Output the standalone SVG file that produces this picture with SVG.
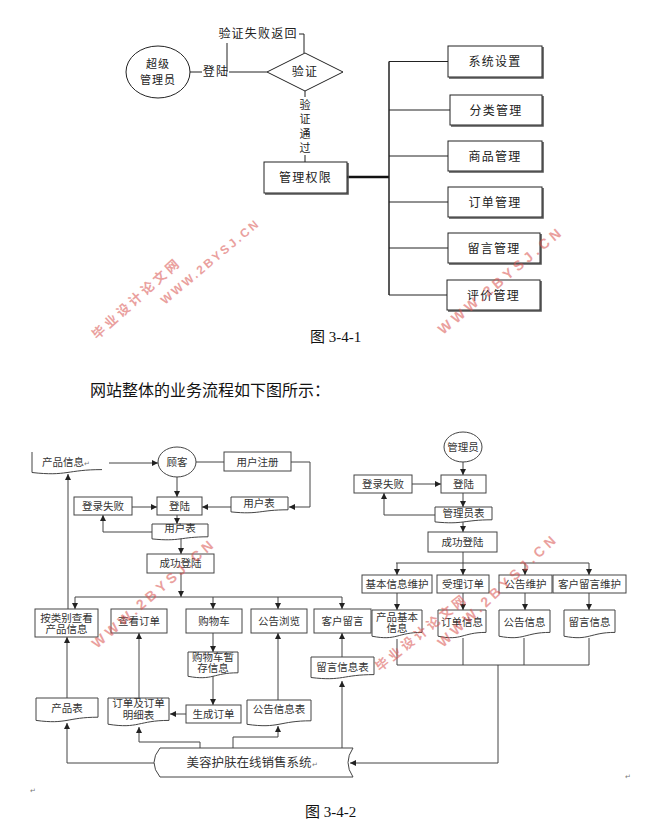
<svg xmlns="http://www.w3.org/2000/svg" width="648" height="835" viewBox="0 0 648 835">
<defs>
<style>
.t{font-family:"Noto Sans CJK SC","Noto Sans",sans-serif;font-size:12px;fill:#222;letter-spacing:1.2px;text-anchor:middle}
.v{font-family:"Noto Sans CJK SC","Noto Sans",sans-serif;font-size:11px;fill:#222;text-anchor:middle}
.s{font-family:"Liberation Serif","Noto Sans CJK SC",serif;font-size:10.5px;fill:#333;text-anchor:middle}
.ln{fill:none;stroke:#222;stroke-width:1}
.l2{fill:none;stroke:#444;stroke-width:1}
.bx{fill:#fff;stroke:#222;stroke-width:1}
.b2{fill:#fff;stroke:#444;stroke-width:1}
.sh{fill:none;stroke:#555;stroke-width:1.6}
.wm{font-family:"Liberation Sans","Noto Sans CJK SC",sans-serif;font-weight:bold;fill:#d9534f;opacity:0.55}
.cap{font-family:"Liberation Serif","Noto Sans CJK SC",serif;font-size:15px;fill:#111}
</style>
<marker id="ar" markerWidth="6" markerHeight="6" refX="6" refY="3" orient="auto" markerUnits="userSpaceOnUse">
<path d="M0,0 L6,3 L0,6 z" fill="#222"/>
</marker>
</defs>
<rect width="648" height="835" fill="#fff"/>

<!-- ===== Figure 3-4-1 ===== -->
<g id="connectors-top">
<line class="ln" x1="190" y1="72" x2="202" y2="72"/>
<line class="ln" x1="229" y1="72" x2="267" y2="72"/>
<polyline class="ln" points="227,43 227,72"/>
<polyline class="ln" points="299,34 304,34 304,53"/>
<line class="ln" x1="305" y1="91" x2="305" y2="97"/>
<line class="ln" x1="305" y1="155" x2="305" y2="162"/>
<line x1="347" y1="177" x2="389" y2="177" stroke="#111" stroke-width="2.5"/>
<line x1="389" y1="61.5" x2="389" y2="295" stroke="#222" stroke-width="1.5"/>
<line class="ln" x1="389" y1="61.5" x2="448" y2="61.5"/>
<line class="ln" x1="389" y1="110" x2="450" y2="110"/>
<line class="ln" x1="389" y1="156" x2="448" y2="156"/>
<line class="ln" x1="389" y1="202" x2="448" y2="202"/>
<line class="ln" x1="389" y1="248" x2="448" y2="248"/>
<line class="ln" x1="389" y1="295" x2="447" y2="295"/>
<text class="t" x="216" y="76">登陆</text>
<text class="t" x="258" y="38">验证失败返回</text>
<text class="v" x="305" y="108.5">验</text>
<text class="v" x="305" y="123">证</text>
<text class="v" x="305" y="137.5">通</text>
<text class="v" x="305" y="152">过</text>
</g>
<g id="n-superadmin">
<ellipse class="bx" cx="158" cy="72" rx="32" ry="26"/>
<text class="v" x="158" y="67.5" style="letter-spacing:1px">超级</text>
<text class="v" x="158" y="84" style="letter-spacing:1px">管理员</text>
</g>
<g id="n-verify">
<polygon class="bx" points="267,72 305,53 343,72 305,91"/>
<text class="t" x="305" y="76">验证</text>
</g>
<g id="n-perm">
<polyline class="sh" points="265,194 348,194 348,163"/>
<rect class="bx" x="264" y="162" width="83" height="31"/>
<text class="t" x="305.5" y="182">管理权限</text>
</g>
<g id="n-sys">
<polyline class="sh" points="449,78 543,78 543,47"/>
<rect class="bx" x="448" y="46" width="94" height="31"/>
<text class="t" x="495" y="66">系统设置</text>
</g>
<g id="n-cat">
<polyline class="sh" points="451,126 543,126 543,96"/>
<rect class="bx" x="450" y="95" width="92" height="30"/>
<text class="t" x="496" y="114.5">分类管理</text>
</g>
<g id="n-goods">
<polyline class="sh" points="449,172 543,172 543,142"/>
<rect class="bx" x="448" y="141" width="94" height="30"/>
<text class="t" x="495" y="160.5">商品管理</text>
</g>
<g id="n-order">
<polyline class="sh" points="449,218 543,218 543,188"/>
<rect class="bx" x="448" y="187" width="94" height="30"/>
<text class="t" x="495" y="206.5">订单管理</text>
</g>
<g id="n-msg">
<polyline class="sh" points="449,264 541,264 541,234"/>
<rect class="bx" x="448" y="233" width="92" height="30"/>
<text class="t" x="494" y="252.5">留言管理</text>
</g>
<g id="n-review">
<polyline class="sh" points="448,311 541,311 541,281"/>
<rect class="bx" x="447" y="280" width="93" height="30"/>
<text class="t" x="493.5" y="299.5">评价管理</text>
</g>

<text class="cap" x="310" y="342">图 3-4-1</text>
<text x="90" y="396" style="font-family:'Noto Sans CJK SC',sans-serif;font-size:16px;fill:#111">网站整体的业务流程如下图所示：</text>

<!-- ===== Figure 3-4-2 ===== -->
<g id="connectors-bottom">
<line class="l2" x1="109" y1="463" x2="158" y2="463" marker-end="url(#ar)"/>
<line class="l2" x1="196" y1="462" x2="224" y2="462"/>
<polyline class="l2" points="291,462 310,462 310,507 289,507" marker-end="url(#ar)"/>
<line class="l2" x1="231" y1="507" x2="202" y2="507" marker-end="url(#ar)"/>
<line class="l2" x1="177" y1="477" x2="177" y2="497" marker-end="url(#ar)"/>
<line class="l2" x1="132" y1="507" x2="157" y2="507" marker-end="url(#ar)"/>
<line class="l2" x1="177" y1="515" x2="177" y2="524" marker-end="url(#ar)"/>
<polyline class="l2" points="152,532 103,532 103,515" marker-end="url(#ar)"/>
<line class="l2" x1="181" y1="538" x2="181" y2="554" marker-end="url(#ar)"/>
<line class="l2" x1="181" y1="573" x2="181" y2="597" marker-end="url(#ar)"/>
<line class="l2" x1="75" y1="597" x2="342" y2="597"/>
<polyline class="l2" points="75,597 75,609" marker-end="url(#ar)"/>
<polyline class="l2" points="213,597 213,609" marker-end="url(#ar)"/>
<polyline class="l2" points="278,597 278,609" marker-end="url(#ar)"/>
<polyline class="l2" points="342,597 342,609" marker-end="url(#ar)"/>
<line class="l2" x1="68" y1="609" x2="68" y2="474" marker-end="url(#ar)"/>
<line class="l2" x1="213" y1="633" x2="213" y2="652" marker-end="url(#ar)"/>
<line class="l2" x1="213" y1="676" x2="213" y2="705" marker-end="url(#ar)"/>
<line class="l2" x1="186" y1="714" x2="170" y2="714" marker-end="url(#ar)"/>
<line class="l2" x1="67" y1="698" x2="67" y2="637" marker-end="url(#ar)"/>
<line class="l2" x1="139" y1="698" x2="139" y2="633" marker-end="url(#ar)"/>
<line class="l2" x1="278" y1="700" x2="278" y2="633" marker-end="url(#ar)"/>
<line class="l2" x1="342" y1="657" x2="342" y2="633" marker-end="url(#ar)"/>
<polyline class="l2" points="157,763 67,763 67,723" marker-end="url(#ar)"/>
<polyline class="l2" points="200,748 200,742 139,742 139,727" marker-end="url(#ar)"/>
<polyline class="l2" points="233,748 233,737 278,737 278,726" marker-end="url(#ar)"/>
<polyline class="l2" points="342,748 342,681" marker-end="url(#ar)"/>
<line class="l2" x1="463" y1="462" x2="463" y2="475" marker-end="url(#ar)"/>
<line class="l2" x1="412" y1="484" x2="441" y2="484" marker-end="url(#ar)"/>
<line class="l2" x1="463" y1="493" x2="463" y2="507" marker-end="url(#ar)"/>
<polyline class="l2" points="435,515 384,515 384,493" marker-end="url(#ar)"/>
<line class="l2" x1="463" y1="521" x2="463" y2="532" marker-end="url(#ar)"/>
<line class="l2" x1="463" y1="552" x2="463" y2="563"/>
<line class="l2" x1="396" y1="563" x2="589" y2="563"/>
<polyline class="l2" points="397,563 397,575" marker-end="url(#ar)"/>
<polyline class="l2" points="463,563 463,575" marker-end="url(#ar)"/>
<polyline class="l2" points="525,563 525,575" marker-end="url(#ar)"/>
<polyline class="l2" points="589,563 589,575" marker-end="url(#ar)"/>
<line class="l2" x1="397" y1="593" x2="397" y2="610" marker-end="url(#ar)"/>
<line class="l2" x1="463" y1="593" x2="463" y2="610" marker-end="url(#ar)"/>
<line class="l2" x1="525" y1="593" x2="525" y2="610" marker-end="url(#ar)"/>
<line class="l2" x1="589" y1="593" x2="589" y2="610" marker-end="url(#ar)"/>
<line class="l2" x1="397" y1="639" x2="397" y2="665"/>
<line class="l2" x1="463" y1="638" x2="463" y2="665"/>
<line class="l2" x1="524" y1="638" x2="524" y2="665"/>
<line class="l2" x1="589" y1="638" x2="589" y2="665"/>
<line class="l2" x1="397" y1="665" x2="589" y2="665"/>
<polyline class="l2" points="498,665 498,763 350,763" marker-end="url(#ar)"/>
</g>

<g id="n-prodinfo">
<path class="l2" d="M32,452 V472.5 C67,476.5 67,469.6 102,469.6"/>
<text class="s" x="42" y="466" style="text-anchor:start;font-size:10.5px">产品信息<tspan font-size="7" fill="#777">↵</tspan></text>
</g>
<g id="n-customer">
<ellipse class="b2" cx="177" cy="462" rx="19" ry="15"/>
<text class="s" x="177" y="466">顾客</text>
</g>
<g id="n-register">
<rect class="b2" x="224" y="452" width="67" height="19"/>
<text class="s" x="257.5" y="465.5">用户注册</text>
</g>
<g id="n-usertable1">
<path class="b2" d="M231,497 H288 V509.8 C259.5,509.8 259.5,514.8 231,511.9 Z"/>
<text class="s" x="259" y="507">用户表</text>
</g>
<g id="n-login1">
<rect class="b2" x="157" y="497" width="45" height="18"/>
<text class="s" x="179.5" y="510">登陆</text>
</g>
<g id="n-fail1">
<rect class="b2" x="74" y="497" width="58" height="18"/>
<text class="s" x="103" y="510">登录失败</text>
</g>
<g id="n-usertable2">
<path class="b2" d="M152,524 H208 V536.8 C180,536.8 180,541.8 152,538.9 Z"/>
<text class="s" x="180" y="532">用户表</text>
</g>
<g id="n-success1">
<rect class="b2" x="147" y="554" width="67" height="19"/>
<text class="s" x="180.5" y="567">成功登陆</text>
</g>
<g id="n-browse">
<rect class="b2" x="35" y="609" width="63" height="28"/>
<text class="s" x="66.5" y="622">按类别查看</text>
<text class="s" x="66.5" y="633">产品信息</text>
</g>
<g id="n-vieworder">
<rect class="b2" x="111" y="609" width="56" height="24"/>
<text class="s" x="139" y="625">查看订单</text>
</g>
<g id="n-cart">
<rect class="b2" x="186" y="609" width="56" height="24"/>
<text class="s" x="214" y="625">购物车</text>
</g>
<g id="n-notice">
<rect class="b2" x="251" y="609" width="56" height="24"/>
<text class="s" x="279" y="625">公告浏览</text>
</g>
<g id="n-comment">
<rect class="b2" x="314" y="609" width="57" height="24"/>
<text class="s" x="342.5" y="625">客户留言</text>
</g>
<g id="n-carttemp">
<path class="b2" d="M188,652 H238 V672.8 C213,672.8 213,680.9 188,676.3 Z"/>
<text class="s" x="213" y="661">购物车暂</text>
<text class="s" x="213" y="672">存信息</text>
</g>
<g id="n-genorder">
<rect class="b2" x="186" y="705" width="55" height="18"/>
<text class="s" x="213.5" y="718">生成订单</text>
</g>
<g id="n-ordertable">
<path class="b2" d="M108,698 H169 V720.4 C138.5,720.4 138.5,729.1 108,724.2 Z"/>
<text class="s" x="138.5" y="707">订单及订单</text>
<text class="s" x="138.5" y="719">明细表</text>
</g>
<g id="n-prodtable">
<path class="b2" d="M36,698 H98 V717.2 C67,717.2 67,724.6 36,720.4 Z"/>
<text class="s" x="67" y="712">产品表</text>
</g>
<g id="n-noticetable">
<path class="b2" d="M247,700 H311 V720.8 C279,720.8 279,728.9 247,724.3 Z"/>
<text class="s" x="279" y="713">公告信息表</text>
</g>
<g id="n-msgtable">
<path class="b2" d="M311,657 H374 V674.6 C342.5,674.6 342.5,681.4 311,677.5 Z"/>
<text class="s" x="342.5" y="671">留言信息表</text>
</g>
<g id="n-system">
<path class="b2" d="M160,748 H353 Q343,762.5 353,777 H160 Q148,762.5 160,748 Z"/>
<text class="s" x="252" y="767" style="font-size:12.5px;font-family:'Noto Sans CJK SC',sans-serif">美容护肤在线销售系统<tspan font-size="7" fill="#777">↵</tspan></text>
</g>
<g id="n-admin">
<ellipse class="b2" cx="463" cy="447" rx="19" ry="15"/>
<text class="s" x="463" y="451">管理员</text>
</g>
<g id="n-login2">
<rect class="b2" x="441" y="475" width="45" height="18"/>
<text class="s" x="463.5" y="488">登陆</text>
</g>
<g id="n-fail2">
<rect class="b2" x="354" y="475" width="58" height="18"/>
<text class="s" x="383" y="488">登录失败</text>
</g>
<g id="n-admintable">
<path class="b2" d="M435,507 H492 V519.8 C463.5,519.8 463.5,524.8 435,521.9 Z"/>
<text class="s" x="463.5" y="517">管理员表</text>
</g>
<g id="n-success2">
<rect class="b2" x="428" y="532" width="69" height="20"/>
<text class="s" x="462.5" y="546">成功登陆</text>
</g>
<g id="n-basicmaint">
<rect class="b2" x="362" y="575" width="70" height="18"/>
<text class="s" x="397" y="588">基本信息维护</text>
</g>
<g id="n-acceptorder">
<rect class="b2" x="437" y="575" width="52" height="18"/>
<text class="s" x="463" y="588">受理订单</text>
</g>
<g id="n-noticemaint">
<rect class="b2" x="499" y="575" width="53" height="18"/>
<text class="s" x="525.5" y="588">公告维护</text>
</g>
<g id="n-msgmaint">
<rect class="b2" x="553" y="575" width="73" height="18"/>
<text class="s" x="589.5" y="588">客户留言维护</text>
</g>
<g id="n-prodbasic">
<path class="b2" d="M372,610 H422 V632.4 C397,632.4 397,641.1 372,636.2 Z"/>
<text class="s" x="397" y="621">产品基本</text>
<text class="s" x="397" y="632">信息</text>
</g>
<g id="n-orderinfo">
<path class="b2" d="M438,610 H486 V632.4 C462,632.4 462,641.1 438,636.2 Z"/>
<text class="s" x="462" y="626">订单信息</text>
</g>
<g id="n-noticeinfo">
<path class="b2" d="M499,610 H550 V632.4 C524.5,632.4 524.5,641.1 499,636.2 Z"/>
<text class="s" x="524.5" y="626">公告信息</text>
</g>
<g id="n-msginfo">
<path class="b2" d="M564,610 H615 V632.4 C589.5,632.4 589.5,641.1 564,636.2 Z"/>
<text class="s" x="589.5" y="626">留言信息</text>
</g>

<text x="30" y="793" style="font-family:'Noto Sans',sans-serif;font-size:7px;fill:#777">↵</text>
<text x="625" y="779" style="font-family:'Noto Sans',sans-serif;font-size:7px;fill:#777">↵</text>
<text class="cap" x="305" y="817">图 3-4-2</text>

<!-- watermarks -->
<g id="watermarks">
<text class="wm" transform="translate(97,340) rotate(-42)" style="font-size:13px;letter-spacing:3.4px">毕业设计论文网</text>
<text class="wm" transform="translate(165,305) rotate(-40)" style="font-size:12px;letter-spacing:2.5px">WWW.2BYSJ.CN</text>
<text class="wm" transform="translate(443,335) rotate(-40)" style="font-size:14px;letter-spacing:4px">WWW.2BYSJ.CN</text>
<text class="wm" transform="translate(97,649) rotate(-41)" style="font-size:14px;letter-spacing:4px">WWW.2BYSJ.CN</text>
<text class="wm" transform="translate(380,672) rotate(-39)" style="font-size:13px;letter-spacing:3.4px">毕业设计论文网</text>
<text class="wm" transform="translate(443,648) rotate(-43)" style="font-size:14px;letter-spacing:4px">WWW.2BYSJ.CN</text>
</g>
</svg>
